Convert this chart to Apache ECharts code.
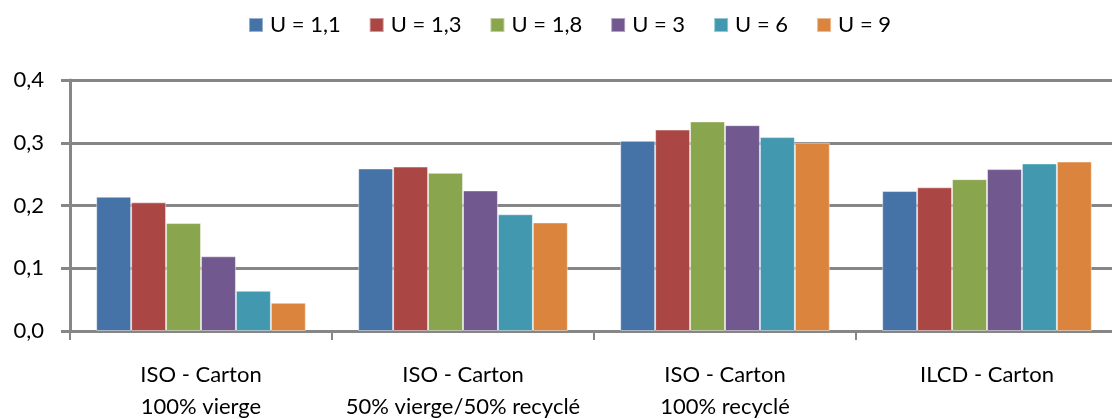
<!DOCTYPE html>
<html>
<head>
<meta charset="utf-8">
<script src="https://cdn.jsdelivr.net/npm/echarts@6/dist/echarts.min.js"></script>
<style>
  html, body { margin: 0; padding: 0; background: #fff; }
  #chart { width: 1112px; height: 419px; }
</style>
</head>
<body>
<div id="chart"></div>
<script>
// Scenario categories (x axis)
const categories = [
  'ISO - Carton\n100% vierge',
  'ISO - Carton\n50% vierge/50% recyclé',
  'ISO - Carton\n100% recyclé',
  'ILCD - Carton'
];

// One series per U value
const seriesNames = ['U = 1,1', 'U = 1,3', 'U = 1,8', 'U = 3', 'U = 6', 'U = 9'];
const u11 = [0.214, 0.259, 0.303, 0.223];
const u13 = [0.205, 0.262, 0.321, 0.229];
const u18 = [0.172, 0.252, 0.334, 0.242];
const u3  = [0.119, 0.224, 0.328, 0.258];
const u6  = [0.064, 0.186, 0.309, 0.267];
const u9  = [0.045, 0.173, 0.300, 0.270];

const yTicks = [0, 0.1, 0.2, 0.3, 0.4];

const colors = ['#4572A7', '#AA4643', '#89A54E', '#71588F', '#4198AF', '#DB843D'];
const seriesValues = [u11, u13, u18, u3, u6, u9];

const font = 'Lato, "Open Sans", sans-serif';
const grey = '#868686';

const chart = echarts.init(document.getElementById('chart'));
chart.setOption({
  animation: false,
  color: colors,
  textStyle: { fontFamily: font },
  legend: {
    top: 14,
    left: 248,
    padding: 0,
    itemWidth: 14,
    itemHeight: 14,
    itemGap: 28,
    icon: 'rect',
    textStyle: { fontFamily: font, fontSize: 22, color: '#000', padding: [0, 0, 0, 2] },
    data: seriesNames
  },
  grid: {
    left: 70, right: -6, top: 80, bottom: 88,
    outerBoundsMode: 'none',
    containLabel: false
  },
  xAxis: {
    type: 'category',
    data: categories,
    axisLine: { lineStyle: { color: grey, width: 3 } },
    axisTick: { show: true, length: 9, lineStyle: { color: grey, width: 2 } },
    axisLabel: {
      color: '#000',
      fontFamily: font,
      fontSize: 22,
      lineHeight: 32,
      margin: 28,
      interval: 0
    },
    splitLine: { show: false }
  },
  yAxis: {
    type: 'value',
    min: yTicks[0],
    max: yTicks[yTicks.length - 1],
    interval: 0.1,
    axisLine: { show: true, lineStyle: { color: grey, width: 3 } },
    axisTick: { show: true, length: 9, lineStyle: { color: grey, width: 3 } },
    axisLabel: {
      color: '#000',
      fontFamily: font,
      fontSize: 22,
      margin: 26,
      formatter: v => v.toFixed(1).replace('.', ',')
    },
    splitLine: { show: true, lineStyle: { color: grey, width: 3 } }
  },
  series: seriesNames.map((name, i) => ({
    name,
    type: 'bar',
    data: seriesValues[i],
    barGap: '0%',
    barCategoryGap: '20%',
    itemStyle: { borderColor: 'rgba(255,255,255,0.45)', borderWidth: 1 }
  }))
});
</script>
</body>
</html>
